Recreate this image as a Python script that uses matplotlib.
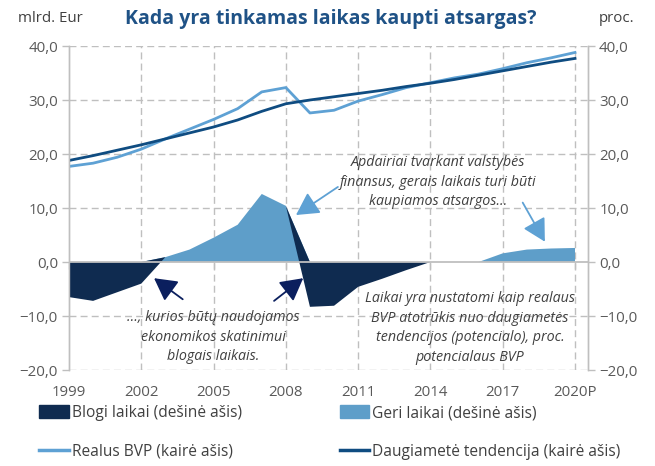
import matplotlib
matplotlib.use("Agg")
import matplotlib.pyplot as plt
from matplotlib.patches import Patch
from matplotlib.lines import Line2D

plt.rcParams['font.family'] = ['Open Sans', 'DejaVu Sans']

years = list(range(1999, 2021))
real_gdp = [17.7, 18.3, 19.4, 20.9, 22.8, 24.6, 26.4, 28.4, 31.5, 32.3, 27.6,
            28.1, 29.8, 31.0, 32.3, 33.2, 34.1, 34.8, 35.8, 36.9, 37.8, 38.8]
trend = [18.8, 19.7, 20.7, 21.7, 22.8, 23.9, 25.0, 26.3, 27.9, 29.3, 30.0,
         30.6, 31.2, 31.8, 32.5, 33.1, 33.8, 34.6, 35.4, 36.2, 37.0, 37.7]
good_times = [0, 0, 0, 0, 0.9, 2.3, 4.5, 6.9, 12.6, 10.4, 0,
              0, 0, 0, 0, 0, 0, 0, 1.6, 2.3, 2.5, 2.6]
bad_times = [-6.5, -7.2, -5.6, -4.0, 0, 0, 0, 0, 0, 0, -8.3,
             -8.1, -4.6, -3.1, -1.5, 0, 0, 0, 0, 0, 0, 0]
xticks = [1999, 2002, 2005, 2008, 2011, 2014, 2017, 2020]
xticklabels = ['1999', '2002', '2005', '2008', '2011', '2014', '2017', '2020P']
yticks = [-20, -10, 0, 10, 20, 30, 40]
yticklabels = ['\u221220,0', '\u221210,0', '0,0', '10,0', '20,0', '30,0', '40,0']

C_DARK_AREA = '#0f2b50'
C_LIGHT_AREA = '#5e9ec9'
C_REAL = '#5ea1d4'
C_TREND = '#0f4c81'
C_GRID = '#bfbfbf'
C_TEXT = '#595959'
C_TITLE = '#1f5286'
C_NAVY_ARROW = '#0b1f5e'

fig = plt.figure(figsize=(6.55, 4.66), dpi=100)
ax = fig.add_axes([69/655, 1-370/466, (588-69)/655, (370-46)/466])
ax2 = ax.twinx()

for a in (ax, ax2):
    a.set_xlim(1999, 2020.54)
    a.set_ylim(-20, 40)
    for s in ('top', 'bottom'):
        a.spines[s].set_visible(False)
    a.spines['left'].set_color(C_GRID)
    a.spines['right'].set_color(C_GRID)
    a.spines['left'].set_linewidth(1.0)
    a.spines['right'].set_linewidth(1.0)

# grid
for yv in yticks:
    if yv != 0:
        ax.axhline(yv, color=C_GRID, lw=1.0, ls=(0, (5, 3)), zorder=0)
for xv in xticks[1:]:
    ax.axvline(xv, color=C_GRID, lw=1.0, ls=(0, (5, 3)), zorder=0)

# areas (stacked, right axis)
ax2.stackplot(years, good_times, bad_times, colors=[C_LIGHT_AREA, C_DARK_AREA],
              lw=0, zorder=2)
ax2.axhline(0, color=C_GRID, lw=1.3, zorder=3)

# lines (left axis)
ax.plot(years, real_gdp, color=C_REAL, lw=2.0, zorder=3)
ax.plot(years, trend, color=C_TREND, lw=2.0, zorder=3)

ax.set_yticks(yticks)
ax.set_yticklabels(yticklabels)
ax2.set_yticks(yticks)
ax2.set_yticklabels(yticklabels)
ax.tick_params(axis='y', colors=C_GRID, labelcolor=C_TEXT, labelsize=10.8,
               length=5, width=1.0, pad=3)
ax2.tick_params(axis='y', colors=C_GRID, labelcolor=C_TEXT, labelsize=10.8,
                length=5, width=1.0, pad=3)
ax.set_xticks(xticks)
ax.set_xticklabels(xticklabels)
ax.tick_params(axis='x', length=0, labelcolor=C_TEXT, labelsize=10.8, pad=11)

# tick marks on zero axis
sec = ax2.secondary_xaxis(1/3)
sec.set_xticks(xticks)
sec.tick_params(axis='x', length=5, width=1.0, colors=C_GRID, labelbottom=False)
sec.spines['bottom'].set_visible(False)

# annotations
ann_kw = dict(fontsize=10.3, style='italic', color='#404040', ha='center', va='center',
              linespacing=1.42, zorder=6)
ax.text(2014.3, 14.8, 'Apdairiai tvarkant valstybės\nfinansus, gerais laikais turi būti\nkaupiamos atsargos...', **ann_kw)
ax.text(2004.98, -13.9, '..., kurios būtų naudojamos\nekonomikos skatinimui\nblogais laikais.', **ann_kw)
ax.text(2015.64, -12.2, 'Laikai yra nustatomi kaip realaus\nBVP atotrūkis nuo daugiametės\ntendencijos (potencialo), proc.\npotencialaus BVP', **ann_kw)

arrow_style = '-|>,head_length=0.55,head_width=0.3'
for tip, tail, col in [((2008.42, 8.7), (2010.16, 13.9), C_REAL),
                       ((2018.75, 3.76), (2017.83, 11.0), C_REAL),
                       ((2002.53, -3.0), (2003.72, -6.9), C_NAVY_ARROW),
                       ((2008.72, -3.0), (2007.51, -7.2), C_NAVY_ARROW)]:
    ax.annotate('', xy=tip, xytext=tail,
                arrowprops=dict(arrowstyle=arrow_style, mutation_scale=25, color=col, lw=1.3,
                                shrinkA=0, shrinkB=0), zorder=6)

# titles
fig.text(331/655, 1-19/466, 'Kada yra tinkamas laikas kaupti atsargas?', ha='center', va='center',
         fontsize=14, fontweight='bold', color=C_TITLE)
fig.text(18/655, 1-19/466, 'mlrd. Eur', ha='left', va='center', fontsize=10.8, color='#404040')
fig.text(634/655, 1-19/466, 'proc.', ha='right', va='center', fontsize=10.8, color='#404040')

handles = [Patch(color=C_DARK_AREA), Line2D([], [], color=C_REAL, lw=2.5),
           Patch(color=C_LIGHT_AREA), Line2D([], [], color=C_TREND, lw=2.5)]
labels = ['Blogi laikai (dešinė ašis)', 'Realus BVP (kairė ašis)',
          'Geri laikai (dešinė ašis)', 'Daugiametė tendencija (kairė ašis)']
fig.legend(handles, labels, ncol=2, loc='upper left', bbox_to_anchor=(39/655, 1-405/466),
           frameon=False, fontsize=11.2, handlelength=1.9, handletextpad=0.2,
           columnspacing=6.3, labelspacing=1.45, labelcolor='#404040', borderaxespad=0,
           borderpad=0, handleheight=0.9)

fig.savefig('out.png', dpi=100)
